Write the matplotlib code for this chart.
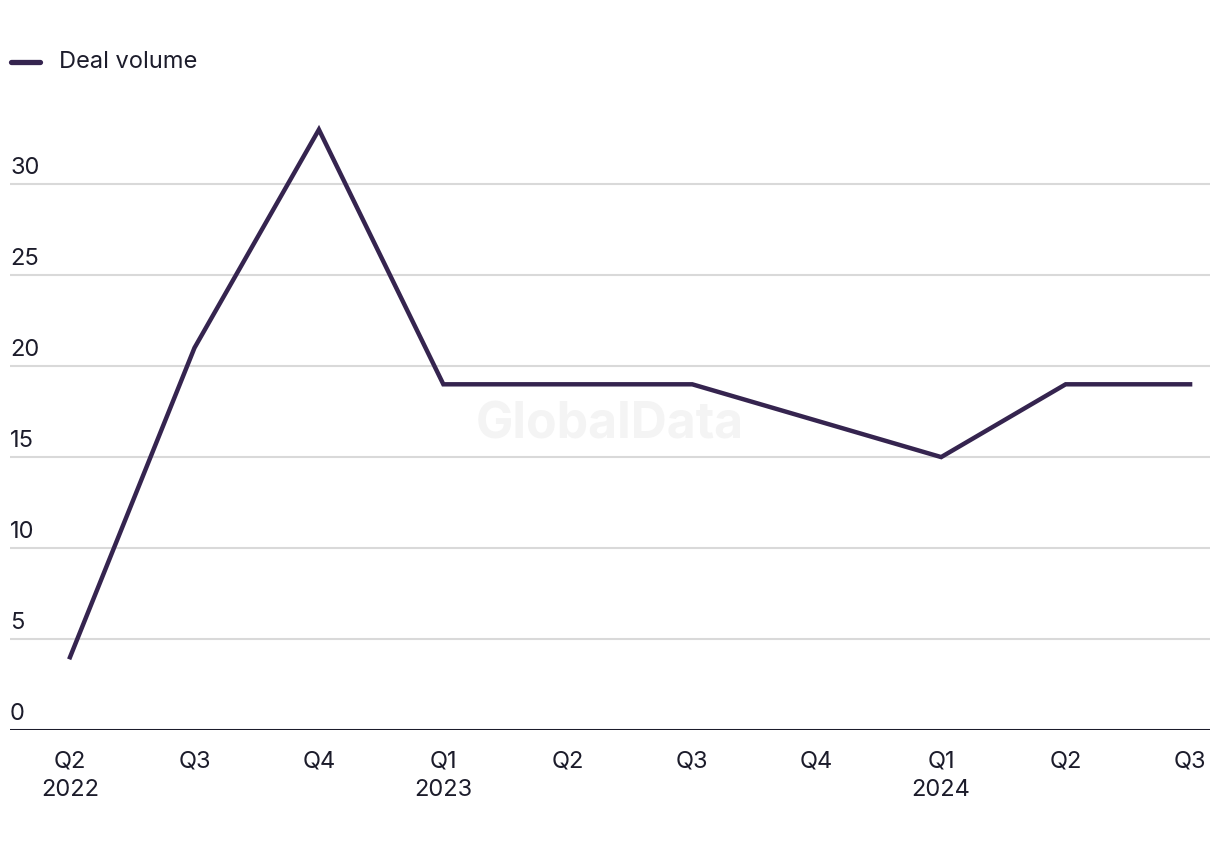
import matplotlib
matplotlib.use("Agg")
import matplotlib.pyplot as plt
import matplotlib.transforms as mtransforms

# Data
quarters = ["Q2\n2022", "Q3", "Q4", "Q1\n2023", "Q2", "Q3", "Q4", "Q1\n2024", "Q2", "Q3"]
deal_volume = [4, 21, 33, 19, 19, 19, 17, 15, 19, 19]
y_ticks = [0, 5, 10, 15, 20, 25, 30]

line_color = "#35244f"
text_color = "#1c1c2b"

plt.rcParams["font.family"] = ["Inter", "DejaVu Sans"]

fig = plt.figure(figsize=(12.2, 8.5), dpi=100)
ax = fig.add_axes([10 / 1220, 1 - 730 / 850, 1200 / 1220, (730 - 75) / 850])

x = list(range(len(quarters)))
ax.plot(x, deal_volume, color=line_color, lw=3.2, solid_joinstyle="miter", zorder=3)

ax.set_xlim(-0.482, 9.16)
ax.set_ylim(0, 36)

# gridlines
for t in y_ticks[1:]:
    ax.axhline(t, color="#d9d9d9", lw=1.5, zorder=1)
ax.axhline(0, color=text_color, lw=2.2, zorder=2)

# y labels sit above gridlines, inside the plot
trans = mtransforms.blended_transform_factory(ax.transAxes, ax.transData)
offset = mtransforms.offset_copy(trans, fig=fig, x=0, y=3.5, units="points")
for t in y_ticks:
    ax.text(0, t, str(t), transform=offset, ha="left", va="bottom",
            fontsize=17, color=text_color)

ax.set_yticks([])
ax.set_xticks(x)
ax.set_xticklabels(quarters, fontsize=17, color=text_color, linespacing=1.35)
ax.tick_params(axis="x", length=0, pad=15)
for s in ax.spines.values():
    s.set_visible(False)

# watermark
ax.text(0.5, 1 - 425 / 850, "GlobalData", transform=fig.transFigure, ha="center", va="center",
        fontsize=36, fontweight="bold", color="#f4f4f4", zorder=0)

# legend
fig.add_artist(plt.Line2D([11 / 1220, 40 / 1220], [1 - 62 / 850] * 2,
                          color=line_color, lw=3.8, solid_capstyle="round"))
fig.text(59 / 1220, 1 - 62 / 850, "Deal volume", ha="left", va="center",
         fontsize=17, color=text_color)

fig.savefig("out.png", dpi=100, facecolor="white")
